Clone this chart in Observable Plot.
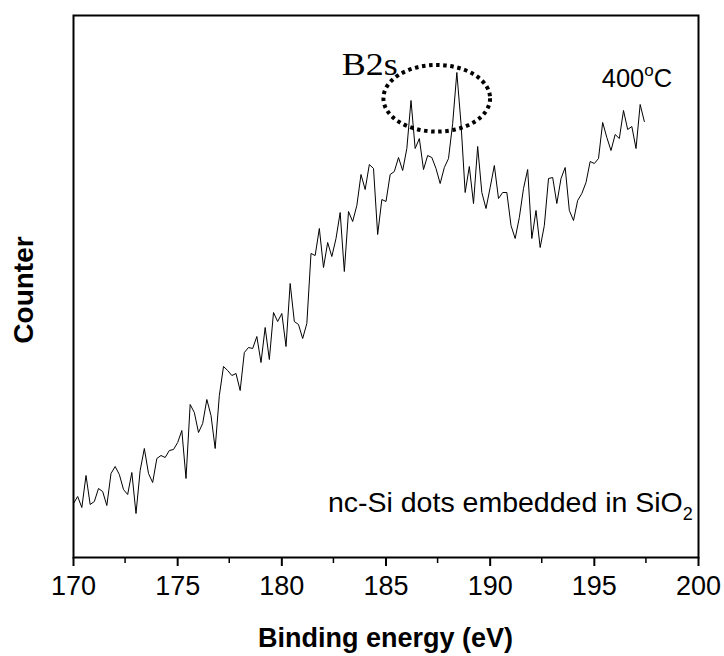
<!DOCTYPE html>
<html>
<head>
<meta charset="utf-8">
<script src="https://cdn.jsdelivr.net/npm/d3@7"></script>
<script src="https://cdn.jsdelivr.net/npm/@observablehq/plot@0.6"></script>
<style>
  html, body { margin: 0; padding: 0; background: #fff; }
  #chart svg [aria-label^="x-axis"] path,
  #chart svg [aria-label^="x-axis"] line { stroke-width: 2px; }
</style>
</head>
<body>
<div id="chart"></div>
<script>
// Binding energy (eV)
const energy = [
  170.0, 170.2, 170.4, 170.6, 170.8, 171.0, 171.2, 171.4, 171.6, 171.8,
  172.0, 172.2, 172.4, 172.6, 172.8, 173.0, 173.2, 173.4, 173.6, 173.8,
  174.0, 174.2, 174.4, 174.6, 174.8, 175.0, 175.2, 175.4, 175.6, 175.8,
  176.0, 176.2, 176.4, 176.6, 176.8, 177.0, 177.2, 177.4, 177.6, 177.8,
  178.0, 178.2, 178.4, 178.6, 178.8, 179.0, 179.2, 179.4, 179.6, 179.8,
  180.0, 180.2, 180.4, 180.6, 180.8, 181.0, 181.2, 181.4, 181.6, 181.8,
  182.0, 182.2, 182.4, 182.6, 182.8, 183.0, 183.2, 183.4, 183.6, 183.8,
  184.0, 184.2, 184.4, 184.6, 184.8, 185.0, 185.2, 185.4, 185.6, 185.8,
  186.0, 186.2, 186.4, 186.6, 186.8, 187.0, 187.2, 187.4, 187.6, 187.8,
  188.0, 188.2, 188.4, 188.6, 188.8, 189.0, 189.2, 189.4, 189.6, 189.8,
  190.0, 190.2, 190.4, 190.6, 190.8, 191.0, 191.2, 191.4, 191.6, 191.8,
  192.0, 192.2, 192.4, 192.6, 192.8, 193.0, 193.2, 193.4, 193.6, 193.8,
  194.0, 194.2, 194.4, 194.6, 194.8, 195.0, 195.2, 195.4, 195.6, 195.8,
  196.0, 196.2, 196.4, 196.6, 196.8, 197.0, 197.2, 197.4
];
// Counter (arbitrary units)
const counts = [
  54, 61, 50, 82, 53, 56, 69, 66, 52, 84,
  91, 83, 68, 63, 85, 44, 87, 109, 84, 75,
  99, 102, 100, 107, 108, 115, 127, 79, 153, 145,
  125, 134, 158, 142, 109, 162, 191, 187, 182, 184,
  167, 205, 210, 209, 221, 195, 230, 198, 245, 236,
  244, 211, 274, 236, 233, 219, 234, 304, 302, 329,
  290, 315, 301, 319, 345, 286, 346, 336, 352, 383,
  368, 393, 389, 323, 358, 356, 383, 386, 400, 387,
  409, 457, 409, 419, 388, 402, 400, 389, 374, 390,
  399, 434, 485, 434, 365, 391, 354, 411, 365, 349,
  370, 392, 359, 365, 365, 332, 319, 340, 369, 388,
  319, 347, 310, 332, 379, 380, 354, 379, 390, 347,
  337, 357, 364, 375, 396, 394, 399, 435, 420, 407,
  423, 419, 447, 428, 431, 409, 453, 436
];
const xTicks = [170, 175, 180, 185, 190, 195, 200];
const xMinorTicks = [172.5, 177.5, 182.5, 187.5, 192.5, 197.5];
const xLabel = "Binding energy (eV)";
const yLabel = "Counter";
const peakLabel = "B2s";
const tempLabel = ["400", "o", "C"];
const sampleLabel = ["nc-Si dots embedded in SiO", "2"];

const rows = energy.map((e, i) => ({energy: e, count: counts[i]}));

const SANS = "'Liberation Sans', Arial, Helvetica, sans-serif";
const SERIF = "'Liberation Serif', 'Times New Roman', serif";

// minor ticks on the bottom axis
function minorTicks(index, scales, values, dim) {
  const g = d3.create("svg:g");
  const y0 = dim.height - dim.marginBottom;
  for (const v of xMinorTicks) {
    const x = scales.x(v);
    g.append("line").attr("x1", x).attr("x2", x).attr("y1", y0).attr("y2", y0 + 6)
      .attr("stroke", "black").attr("stroke-width", 1.5);
  }
  return g.node();
}

// annotations
function annotations(index, scales, values, dim) {
  const g = d3.create("svg:g").attr("fill", "black").attr("text-anchor", "start");
  // dotted ellipse around the B2s peaks
  const cx = scales.x(187.46), cy = scales.y(458.7);
  const rx = Math.abs(scales.x(187.46 + 2.56) - cx);
  const ry = Math.abs(scales.y(458.7 - 33.3) - cy);
  g.append("ellipse").attr("cx", cx).attr("cy", cy).attr("rx", rx).attr("ry", ry)
    .attr("fill", "none").attr("stroke", "black").attr("stroke-width", 4)
    .attr("stroke-dasharray", "3.5 3.6");
  // B2s label
  g.append("text").attr("x", scales.x(182.9)).attr("y", scales.y(482))
    .attr("text-anchor", "start")
    .attr("font-family", SERIF).attr("font-size", 31)
    .attr("textLength", 56).attr("lengthAdjust", "spacingAndGlyphs")
    .text(peakLabel);
  // 400oC
  const t = g.append("text").attr("x", scales.x(195.38)).attr("y", scales.y(470))
    .attr("text-anchor", "start")
    .attr("font-family", SANS).attr("font-size", 25.5);
  t.append("tspan").text(tempLabel[0]);
  t.append("tspan").attr("font-size", 17).attr("dy", -11).text(tempLabel[1]);
  t.append("tspan").attr("dy", 11).text(tempLabel[2]);
  // sample label
  const s = g.append("text").attr("x", scales.x(199.75)).attr("y", scales.y(45))
    .attr("text-anchor", "end").attr("font-family", SANS).attr("font-size", 28.5);
  s.append("tspan").text(sampleLabel[0]);
  s.append("tspan").attr("font-size", 18).attr("dy", 8).text(sampleLabel[1]);
  // axis labels
  g.append("text").attr("x", (dim.marginLeft + dim.width - dim.marginRight) / 2)
    .attr("y", dim.height - 9).attr("text-anchor", "middle")
    .attr("font-family", SANS).attr("font-weight", "bold").attr("font-size", 27)
    .text(xLabel);
  g.append("text").attr("transform", `translate(33,${(dim.marginTop + dim.height - dim.marginBottom) / 2 + 4}) rotate(-90)`)
    .attr("text-anchor", "middle")
    .attr("font-family", SANS).attr("font-weight", "bold").attr("font-size", 28)
    .text(yLabel);
  return g.node();
}

const chart = Plot.plot({
  width: 724,
  height: 656,
  marginLeft: 73,
  marginRight: 26,
  marginTop: 15,
  marginBottom: 99,
  style: {
    fontFamily: SANS,
    fontSize: "27px",
    color: "black",
    background: "white",
    overflow: "visible"
  },
  x: {
    domain: [170, 200],
    ticks: xTicks,
    tickSize: 9,
    tickPadding: 9,
    tickFormat: d => String(d),
    label: null
  },
  y: {
    domain: [0, 542],
    axis: null
  },
  marks: [
    Plot.line(rows, {x: "energy", y: "count", stroke: "black", strokeWidth: 1}),
    Plot.frame({stroke: "black", strokeWidth: 2}),
    minorTicks,
    annotations
  ]
});
document.getElementById("chart").appendChild(chart);
</script>
</body>
</html>
